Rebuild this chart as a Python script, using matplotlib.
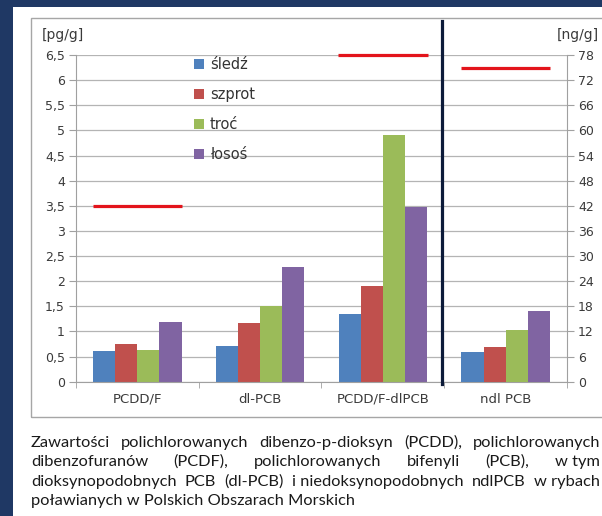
import matplotlib
matplotlib.use('Agg')
import matplotlib.pyplot as plt
import numpy as np
from matplotlib.patches import Rectangle
from matplotlib.lines import Line2D
import matplotlib.transforms as mtransforms

# ---------------- data ----------------
categories = ['PCDD/F', 'dl-PCB', 'PCDD/F-dlPCB', 'ndl PCB']
species = ['śledź', 'szprot', 'troć', 'łosoś']
# first three categories in pg/g (left axis), last one in ng/g (right axis)
sledz = [0.62, 0.72, 1.34, 7.1]
szprot = [0.75, 1.16, 1.91, 8.3]
troc = [0.64, 1.50, 4.90, 12.3]
losos = [1.19, 2.29, 3.48, 16.9]
limits = [3.5, None, 6.5, 75]          # red limit lines
left_ticks = [0, 0.5, 1, 1.5, 2, 2.5, 3, 3.5, 4, 4.5, 5, 5.5, 6, 6.5]
left_tick_labels = ['0', '0,5', '1', '1,5', '2', '2,5', '3', '3,5', '4', '4,5',
                    '5', '5,5', '6', '6,5']
right_ticks = [0, 6, 12, 18, 24, 30, 36, 42, 48, 54, 60, 66, 72, 78]
left_unit = '[pg/g]'
right_unit = '[ng/g]'
caption_lines = [
    ['Zawartości', 'polichlorowanych', 'dibenzo-p-dioksyn', '(PCDD),', 'polichlorowanych'],
    ['dibenzofuranów', '(PCDF),', 'polichlorowanych', 'bifenyli', '(PCB),', 'w tym'],
    ['dioksynopodobnych', 'PCB', '(dl-PCB)', 'i niedoksynopodobnych', 'ndlPCB', 'w rybach'],
    ['poławianych w Polskich Obszarach Morskich'],
]

series = [sledz, szprot, troc, losos]
colors = ['#4F81BD', '#C0504D', '#9BBB59', '#8064A2']

W, H = 602, 516
fig = plt.figure(figsize=(W / 100, H / 100), dpi=100, facecolor='#1F3864')


def fx(px):
    return px / W


def fy(py):
    return 1 - py / H


fig.add_artist(Rectangle((fx(13), 0), 1, fy(7), transform=fig.transFigure,
                         facecolor='white', edgecolor='none', zorder=-3))
fig.add_artist(Rectangle((fx(31), fy(417)), 1.3, (417 - 18) / H, transform=fig.transFigure,
                         facecolor='none', edgecolor='#A6A6A6', lw=1.0, zorder=-2))

ax = fig.add_axes([fx(76), fy(381.7), (567 - 76) / W, (381.7 - 55) / H])
ax.patch.set_visible(False)
ax2 = ax.twinx()
ax2.patch.set_visible(False)

x = np.arange(len(categories))
bw = 0.18
for i, (vals, c, name) in enumerate(zip(series, colors, species)):
    off = (i - 1.5) * bw
    ax.bar(x[:3] + off, vals[:3], bw, color=c, label=name, zorder=2)
    ax2.bar(x[3] + off, vals[3], bw, color=c, zorder=2)

for i, lim in enumerate(limits):
    if lim is None:
        continue
    target = ax if i < 3 else ax2
    target.hlines(lim, x[i] - 0.365, x[i] + 0.365, color='#E3141B', lw=2.3,
                  clip_on=False, zorder=4)

ax.set_xlim(-0.5, 3.5)
ax.set_ylim(0, 6.5)
ax2.set_ylim(0, 78)
ax.set_axisbelow(True)

tick_col = '#3A3A3A'
ax.set_yticks(left_ticks, left_tick_labels)
ax2.set_yticks(right_ticks)
ax.yaxis.grid(True, color='#B4B4B4', lw=0.9)
ax.set_xticks(x, categories)
ax.set_xticks(np.arange(-0.5, 4, 1), minor=True)
ax.tick_params(axis='x', which='major', length=0, pad=8, labelsize=9.5, labelcolor=tick_col)
ax.tick_params(axis='x', which='minor', length=4, color='#A0A0A0')
ax.tick_params(axis='y', length=5, color='#A0A0A0', labelsize=9, labelcolor=tick_col, pad=3)
ax2.tick_params(axis='y', length=5, color='#A0A0A0', labelsize=9, labelcolor=tick_col, pad=3)

for s in ['top', 'right']:
    ax.spines[s].set_visible(False)
for s in ['top', 'left', 'bottom']:
    ax2.spines[s].set_visible(False)
ax.spines['left'].set_color('#A0A0A0')
ax.spines['bottom'].set_color('#A0A0A0')
ax2.spines['right'].set_color('#A0A0A0')

# divider between the pg/g and ng/g parts
trans = mtransforms.blended_transform_factory(ax2.transData, ax2.transAxes)
ax2.add_line(Line2D([2.48, 2.48], [-0.008, 1.104], transform=trans, color='#0D1B3A',
                    lw=2.3, clip_on=False, zorder=5))

fig.text(fx(42), fy(35), left_unit, ha='left', va='center', fontsize=10, color=tick_col)
fig.text(fx(599), fy(35), right_unit, ha='right', va='center', fontsize=10, color=tick_col)

ax.legend(loc='upper left', bbox_to_anchor=(fx(194), fy(57)), bbox_transform=fig.transFigure,
          frameon=False, fontsize=10.5, handlelength=0.7, handleheight=0.7,
          handletextpad=0.4, labelspacing=1.03, borderpad=0, borderaxespad=0,
          labelcolor='#333333')

# ---------------- caption (justified) ----------------
renderer = fig.canvas.get_renderer()
cap_font = ['Lato', 'DejaVu Sans']
probe = fig.text(0, 0, caption_lines[3][0], fontsize=10, family=cap_font)
w10 = probe.get_window_extent(renderer).width
probe.remove()
cap_fs = 10 * (355 - 31) / w10
x0, x_end = 31, 600
line_y = [443, 462, 482, 501]
for words, yy in zip(caption_lines, line_y):
    texts = [fig.text(0, fy(yy), w, fontsize=cap_fs, family=cap_font, color='#1A1A1A',
                      ha='left', va='center') for w in words]
    widths = [t.get_window_extent(renderer).width for t in texts]
    if len(words) > 1:
        gap = (x_end - x0 - sum(widths)) / (len(words) - 1)
    else:
        gap = 0
    cx = x0
    for t, w in zip(texts, widths):
        t.set_x(fx(cx))
        cx += w + gap

fig.savefig('out.png', dpi=100, facecolor=fig.get_facecolor())
